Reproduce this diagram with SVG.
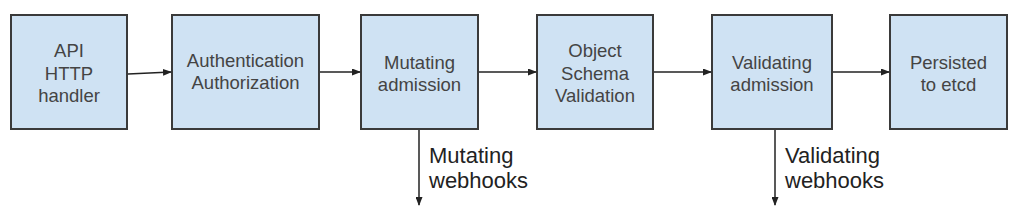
<svg xmlns="http://www.w3.org/2000/svg" width="1020" height="220" viewBox="0 0 1020 220">
<style>
.box{fill:#cfe2f3;stroke:#3a3a3a;stroke-width:2}
.t{font-family:"Liberation Sans",Arial,sans-serif;font-size:18.5px;fill:#444;text-anchor:middle}
.lbl{font-family:"Liberation Sans",Arial,sans-serif;font-size:22px;fill:#222}
.c{stroke:#222;stroke-width:1.5;fill:none;marker-end:url(#ah)}
</style>
<defs>
<marker id="ah" markerWidth="9" markerHeight="7" refX="8" refY="3.5" orient="auto" markerUnits="userSpaceOnUse">
<path d="M0,0 L9,3.5 L0,7 Z" fill="#222"/>
</marker>
</defs>
<g id="api"><rect class="box" x="11" y="15" width="116" height="114"/>
<text class="t" x="69" y="57">API</text><text class="t" x="69" y="80">HTTP</text><text class="t" x="69" y="102">handler</text></g>
<g id="auth"><rect class="box" x="172" y="15" width="147" height="114"/>
<text class="t" x="245.5" y="67">Authentication</text><text class="t" x="245.5" y="89">Authorization</text></g>
<g id="mutating"><rect class="box" x="361" y="15" width="117" height="114"/>
<text class="t" x="419.5" y="69">Mutating</text><text class="t" x="419.5" y="91">admission</text></g>
<g id="schema"><rect class="box" x="537" y="15" width="116" height="114"/>
<text class="t" x="595" y="57">Object</text><text class="t" x="595" y="80">Schema</text><text class="t" x="595" y="102">Validation</text></g>
<g id="validating"><rect class="box" x="712" y="15" width="120" height="114"/>
<text class="t" x="772" y="69">Validating</text><text class="t" x="772" y="91">admission</text></g>
<g id="etcd"><rect class="box" x="890" y="15" width="117" height="114"/>
<text class="t" x="948.5" y="69">Persisted</text><text class="t" x="948.5" y="91">to etcd</text></g>
<g id="connectors">
<line class="c" x1="128" y1="74" x2="171" y2="72"/>
<line class="c" x1="320" y1="72" x2="360" y2="72"/>
<line class="c" x1="479" y1="72" x2="536" y2="72"/>
<line class="c" x1="654" y1="72" x2="711" y2="72"/>
<line class="c" x1="833" y1="72" x2="889" y2="72"/>
<line class="c" x1="419" y1="130" x2="419" y2="205"/>
<line class="c" x1="775" y1="130" x2="775" y2="205"/>
</g>
<text class="lbl" x="429" y="163">Mutating</text>
<text class="lbl" x="429" y="188">webhooks</text>
<text class="lbl" x="785" y="163">Validating</text>
<text class="lbl" x="785" y="188">webhooks</text>
</svg>
